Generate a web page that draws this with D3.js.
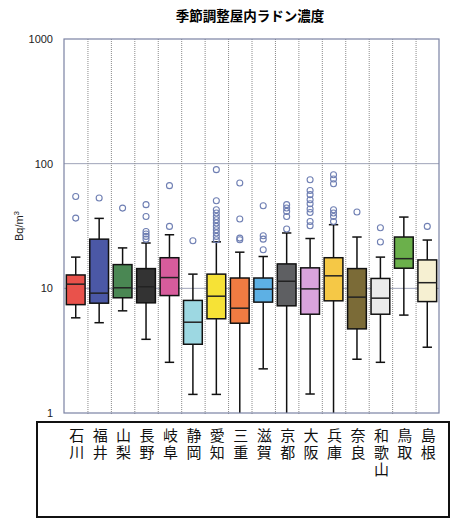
<!DOCTYPE html>
<html>
<head>
<meta charset="utf-8">
<script src="https://cdn.jsdelivr.net/npm/d3@7"></script>
<style>
  body { margin: 0; background: #fff; }
  svg { display: block; }
</style>
</head>
<body>
<div id="chart"></div>
<script>
const prefectures = ["石川", "福井", "山梨", "長野", "岐阜", "静岡", "愛知", "三重",
                     "滋賀", "京都", "大阪", "兵庫", "奈良", "和歌山", "鳥取", "島根"];
const whiskerLow  = [5.8, 5.3, 6.6, 3.9, 2.55, 1.41, 1.41, 0.8, 2.26, 0.8, 1.42, 0.8, 2.7, 2.55, 6.1, 3.37];
const q1          = [7.4, 7.6, 8.4, 7.65, 8.75, 3.56, 5.7, 5.25, 7.75, 7.24, 6.2, 7.94, 4.73, 6.2, 14.5, 7.83];
const medians     = [10.8, 9.15, 10.1, 10.3, 12.2, 5.35, 8.65, 6.93, 9.85, 11.4, 9.9, 12.6, 8.5, 8.34, 17.3, 11.1];
const q3          = [12.8, 24.8, 15.5, 14.4, 17.6, 8.0, 13.0, 12.1, 12.1, 15.7, 14.6, 17.6, 14.4, 12.0, 25.8, 16.9];
const whiskerHigh = [17.8, 36.4, 21.1, 23.1, 26.9, 13.0, 23.6, 19.5, 18.0, 27.8, 25.1, 32.4, 25.8, 17.8, 37.3, 24.4];
const outliers = [
  [54.6, 36.6],
  [53],
  [44],
  [46.9, 37.7, 28.6, 27.3, 26.1, 24.8],
  [66.6, 31.4],
  [24.1],
  [89.5, 50.4, 42.7, 40.2, 37.7, 35.5, 33.4, 31.4, 29.5, 27.8, 26.1, 24.5],
  [70, 36, 25.3, 24.5],
  [46, 26.4, 24.8, 20.4],
  [46.9, 44.1, 41.4, 37.7, 29.9],
  [74.4, 61, 56.4, 51.4, 47.7, 43.3, 40.6, 34.4, 31.8],
  [81.6, 75.4, 69, 42.7, 40.2, 37.7, 34.4],
  [40.9],
  [30.6, 23.5],
  [],
  [31.4]
];
const boxColors = ["#e9524b", "#4b58a6", "#4a8753", "#333333", "#d75c9c", "#9dd8e2", "#f6e236", "#f07b42",
                   "#5db0e4", "#5e5f62", "#d9a3dc", "#f5c846", "#7b6b37", "#ebebeb", "#6bb04b", "#f6f0d2"];
const yTicks = [1, 10, 100, 1000];

const data = prefectures.map((name, i) => ({
  name,
  lo: whiskerLow[i], q1: q1[i], med: medians[i], q3: q3[i], hi: whiskerHigh[i],
  out: outliers[i], color: boxColors[i]
}));

const W = 457, H = 520;
const margin = { top: 39, left: 64, right: 18, bottom: 107 };
const plotW = W - margin.left - margin.right;
const plotH = H - margin.top - margin.bottom;

const svg = d3.select("#chart").append("svg")
  .attr("width", W)
  .attr("height", H);

svg.append("text")
  .attr("x", 250)
  .attr("y", 21)
  .attr("text-anchor", "middle")
  .style("font-family", "'Noto Sans CJK JP', sans-serif")
  .style("font-size", "13.5px")
  .style("font-weight", "bold")
  .text("季節調整屋内ラドン濃度");

const g = svg.append("g")
  .attr("transform", `translate(${margin.left},${margin.top})`);

const x = d3.scaleBand()
  .domain(prefectures)
  .range([0, plotW])
  .paddingInner(0)
  .paddingOuter(0);

const y = d3.scaleLog()
  .domain([1, 1000])
  .range([plotH, 0]);

g.append("clipPath").attr("id", "clip")
  .append("rect").attr("width", plotW).attr("height", plotH);

// horizontal grid at 10 and 100
g.selectAll(".hgrid")
  .data([10, 100])
  .enter().append("line")
  .attr("x1", 0).attr("x2", plotW)
  .attr("y1", d => y(d)).attr("y2", d => y(d))
  .attr("stroke", "#9ea3b8")
  .attr("stroke-width", 1);

// dotted column separators
g.selectAll(".vgrid")
  .data(prefectures.slice(1))
  .enter().append("line")
  .attr("x1", d => x(d) + 0.5).attr("x2", d => x(d) + 0.5)
  .attr("y1", 0).attr("y2", plotH + 2)
  .attr("stroke", "#8a8a8a")
  .attr("stroke-width", 1)
  .attr("stroke-dasharray", "1,1");

// y axis labels
const yAxis = d3.axisLeft(y)
  .tickValues(yTicks)
  .tickFormat(d3.format("d"))
  .tickSize(0)
  .tickPadding(11);
const ya = g.append("g").call(yAxis);
ya.select(".domain").remove();
ya.selectAll("text")
  .style("font-family", "'Liberation Sans', Arial, sans-serif")
  .style("font-size", "11px")
  .attr("fill", "#222");

svg.append("text")
  .attr("transform", `translate(23,${226}) rotate(-90)`)
  .attr("text-anchor", "middle")
  .style("font-family", "'Liberation Sans', Arial, sans-serif")
  .style("font-size", "11px")
  .attr("fill", "#222")
  .text("Bq/m")
  .append("tspan")
  .attr("dy", -4)
  .style("font-size", "8px")
  .text("3");

// boxes
const bw = x.bandwidth() * 0.8;
const cw = bw * 0.5;
const boxes = g.append("g").attr("clip-path", "url(#clip)")
  .selectAll(".box")
  .data(data)
  .enter().append("g")
  .attr("transform", d => `translate(${x(d.name) + x.bandwidth() / 2},0)`);

boxes.append("line")
  .attr("x1", 0).attr("x2", 0)
  .attr("y1", d => y(d.hi)).attr("y2", d => y(d.q3))
  .attr("stroke", "#111").attr("stroke-width", 1.5);
boxes.append("line")
  .attr("x1", 0).attr("x2", 0)
  .attr("y1", d => y(d.q1)).attr("y2", d => y(d.lo))
  .attr("stroke", "#111").attr("stroke-width", 1.5);
boxes.append("line")
  .attr("x1", -cw / 2).attr("x2", cw / 2)
  .attr("y1", d => y(d.hi)).attr("y2", d => y(d.hi))
  .attr("stroke", "#111").attr("stroke-width", 1.5);
boxes.append("line")
  .attr("x1", -cw / 2).attr("x2", cw / 2)
  .attr("y1", d => y(d.lo)).attr("y2", d => y(d.lo))
  .attr("stroke", "#111").attr("stroke-width", 1.5);
boxes.append("rect")
  .attr("x", -bw / 2)
  .attr("width", bw)
  .attr("y", d => y(d.q3))
  .attr("height", d => y(d.q1) - y(d.q3))
  .attr("fill", d => d.color)
  .attr("stroke", "#111")
  .attr("stroke-width", 1.5);
boxes.append("line")
  .attr("x1", -bw / 2).attr("x2", bw / 2)
  .attr("y1", d => y(d.med)).attr("y2", d => y(d.med))
  .attr("stroke", "#222").attr("stroke-width", 1.5);

boxes.selectAll(".out")
  .data(d => d.out)
  .enter().append("circle")
  .attr("cx", 0)
  .attr("cy", d => y(d))
  .attr("r", 3)
  .attr("fill", "none")
  .attr("stroke", "#6f7fb3")
  .attr("stroke-width", 1.1);

// plot frame
g.append("rect")
  .attr("width", plotW)
  .attr("height", plotH)
  .attr("fill", "none")
  .attr("stroke", "#7b82a3")
  .attr("stroke-width", 1.2);

// label panel
const panel = svg.append("g");
panel.append("rect")
  .attr("x", 37).attr("y", 422)
  .attr("width", 412).attr("height", 95)
  .attr("fill", "none")
  .attr("stroke", "#111")
  .attr("stroke-width", 2);

// vertical (tategaki) labels, one text per prefecture
panel.selectAll(".lab")
  .data(prefectures)
  .enter().append("text")
  .attr("x", d => margin.left + x(d) + x.bandwidth() / 2 + 1)
  .attr("y", 428)
  .style("writing-mode", "vertical-rl")
  .style("text-orientation", "upright")
  .style("letter-spacing", "2px")
  .style("font-family", "'Noto Sans CJK JP', sans-serif")
  .style("font-size", "15px")
  .attr("fill", "#111")
  .text(d => d);
</script>
</body>
</html>
